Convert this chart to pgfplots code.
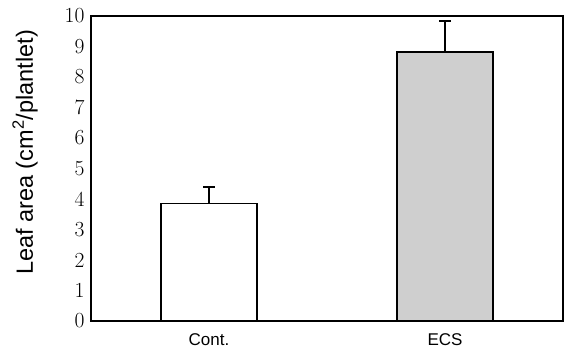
\documentclass[border=0pt]{standalone}
\usepackage{pgfplots}
\pgfplotsset{compat=1.18}
\usepackage{fontspec}
\newfontfamily\arial{Liberation Sans}
\begin{document}
\begin{tikzpicture}
\begin{axis}[
  scale only axis, width=472pt, height=305pt,
  xmin=-0.5, xmax=1.5, ymin=0, ymax=10,
  xtick={0,1}, xticklabels={Cont., ECS},
  ytick={0,1,2,3,4,5,6,7,8,9,10},
  yticklabels={0,1,2,3,4,5,6,7,8,9,10},
  major tick length=0pt,
  axis line style={line width=2.2pt},
  x tick label style={font=\arial\fontsize{17}{19}\selectfont, yshift=-9pt},
  y tick label style={font=\fontsize{21.5}{23}\selectfont, xshift=-3pt},
  ylabel={Leaf area (cm\textsuperscript{2}/plantlet)},
  ylabel style={font=\arial\fontsize{23.5}{25}\selectfont, at={(axis description cs:0,0.5)}, anchor=center, yshift=66pt, xshift=16pt},
  ybar, bar width=0.41, bar shift=0pt,
]
\addplot[draw=black, line width=1.8pt, fill=white,
  error bars/.cd, y dir=plus, y explicit,
  error bar style={line width=1.8pt},
  error mark options={rotate=90, mark size=6pt, line width=1.8pt}]
  coordinates {(0,3.85) +- (0,0.55)};
\addplot[draw=black, line width=1.8pt, fill=gray!38,
  error bars/.cd, y dir=plus, y explicit,
  error bar style={line width=1.8pt},
  error mark options={rotate=90, mark size=6pt, line width=1.8pt}]
  coordinates {(1,8.82) +- (0,1.02)};
\end{axis}
\pgfresetboundingbox
\useasboundingbox ([xshift=-91pt,yshift=-35pt]current axis.south west) rectangle ([xshift=6pt,yshift=16pt]current axis.north east);
\end{tikzpicture}
\end{document}
